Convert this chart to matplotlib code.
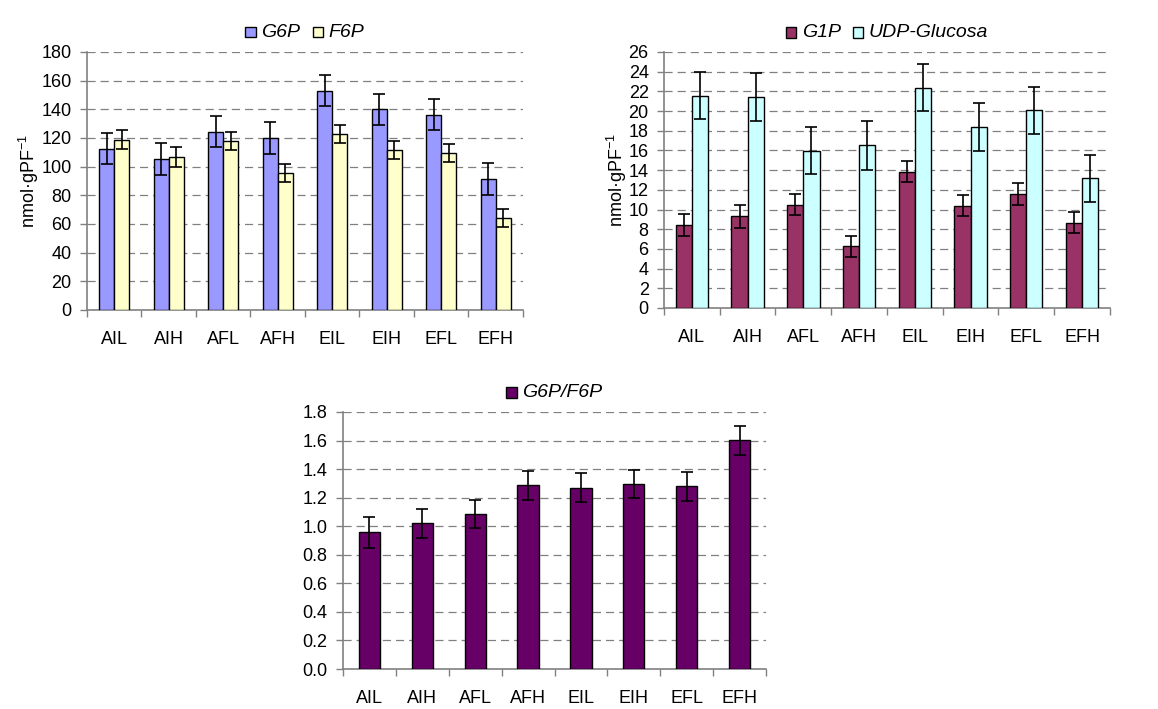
import matplotlib
matplotlib.use("Agg")
import matplotlib.pyplot as plt
import numpy as np

plt.rcParams["font.family"] = ["Liberation Sans", "DejaVu Sans"]
plt.rcParams["mathtext.fontset"] = "custom"
plt.rcParams["mathtext.rm"] = "Liberation Sans"
plt.rcParams["mathtext.it"] = "Liberation Sans:italic"

categories = ["AIL", "AIH", "AFL", "AFH", "EIL", "EIH", "EFL", "EFH"]

g6p = [112.6, 105.4, 124.5, 120.0, 153.0, 140.0, 136.3, 91.5]
g6p_err = [11, 11, 11, 11, 11, 11, 11, 11]
f6p = [118.9, 106.4, 118.0, 95.4, 122.8, 111.7, 109.8, 64.1]
f6p_err = [6.5, 7, 6.5, 6.3, 6, 6.5, 6.3, 6.5]

g1p = [8.4, 9.3, 10.5, 6.26, 13.85, 10.4, 11.6, 8.67]
g1p_err = [1.1, 1.2, 1.1, 1.05, 1.08, 1.05, 1.1, 1.08]
udpg = [21.56, 21.43, 15.98, 16.52, 22.38, 18.38, 20.07, 13.17]
udpg_err = [2.4, 2.4, 2.4, 2.5, 2.4, 2.4, 2.4, 2.4]

ratio = [0.957, 1.02, 1.086, 1.287, 1.27, 1.296, 1.279, 1.602]
ratio_err = [0.11, 0.10, 0.10, 0.10, 0.10, 0.10, 0.10, 0.10]

YLABEL = r"nmol·gPF$^{-1}$"
GRID = "#808080"
FS = 13
ERR_KW = dict(ecolor="black", elinewidth=1.2, capsize=4, capthick=1.2, zorder=4)


def style_axes(ax, ymax, ystep, fmt):
    n = len(categories)
    x = np.arange(n)
    ax.set_xlim(-0.5, n - 0.5)
    ax.set_ylim(0, ymax)
    yt = np.arange(0, ymax + ystep / 2, ystep)
    ax.set_yticks(yt)
    ax.set_yticklabels([fmt.format(v) for v in yt], fontsize=FS)
    for v in yt[1:]:
        ax.axhline(v, color=GRID, lw=0.9, dashes=(6.5, 4), zorder=0)
    ax.set_xticks(x)
    ax.set_xticklabels(categories, fontsize=FS)
    ax.set_xticks(np.arange(-0.5, n, 1.0), minor=True)
    ax.tick_params(axis="x", which="major", length=0, pad=15)
    ax.tick_params(axis="x", which="minor", length=5, width=1, color=GRID)
    ax.tick_params(axis="y", length=5, width=1, color=GRID, pad=6)
    for s in ("top", "right"):
        ax.spines[s].set_visible(False)
    for s in ("left", "bottom"):
        ax.spines[s].set_color(GRID)
        ax.spines[s].set_linewidth(1.2)


def paired_bars(ax, a, a_err, b, b_err, ca, cb, la, lb, width):
    x = np.arange(len(categories))
    kw = dict(edgecolor="black", linewidth=1, zorder=3, error_kw=ERR_KW)
    ax.bar(x - width / 2, a, width, yerr=a_err, color=ca, label=la, **kw)
    ax.bar(x + width / 2, b, width, yerr=b_err, color=cb, label=lb, **kw)


def top_legend(ax, ncol):
    leg = ax.legend(loc="lower center", bbox_to_anchor=(0.5, 1.02), ncol=ncol,
                    frameon=False, handlelength=0.75, handleheight=0.75,
                    handletextpad=0.4, columnspacing=0.9, borderaxespad=0)
    for t in leg.get_texts():
        t.set_fontstyle("italic")
        t.set_fontsize(FS + 1)


fig = plt.figure(figsize=(11.58, 7.09), dpi=100)

# G6P / F6P
ax1 = fig.add_axes([0.0751, 0.5628, 0.3765, 0.3639])
paired_bars(ax1, g6p, g6p_err, f6p, f6p_err, "#9999FF", "#FFFFCC", "G6P", "F6P", 0.275)
style_axes(ax1, 180, 20, "{:.0f}")
ax1.set_ylabel(YLABEL, fontsize=FS, labelpad=0)
top_legend(ax1, 2)

# G1P / UDP-Glucosa
ax2 = fig.add_axes([0.5734, 0.5656, 0.3851, 0.3611])
paired_bars(ax2, g1p, g1p_err, udpg, udpg_err, "#993366", "#CCFFFF", "G1P", "UDP-Glucosa", 0.29)
style_axes(ax2, 26, 2, "{:.0f}")
ax2.set_ylabel(YLABEL, fontsize=FS, labelpad=0)
top_legend(ax2, 2)

# G6P/F6P ratio
ax3 = fig.add_axes([0.2962, 0.0564, 0.3653, 0.3625])
ax3.bar(np.arange(len(categories)), ratio, 0.4, yerr=ratio_err, color="#660066",
        edgecolor="black", linewidth=1, label="G6P/F6P", zorder=3, error_kw=ERR_KW)
style_axes(ax3, 1.8, 0.2, "{:.1f}")
top_legend(ax3, 1)

fig.savefig("out.png", dpi=100, facecolor="white")
